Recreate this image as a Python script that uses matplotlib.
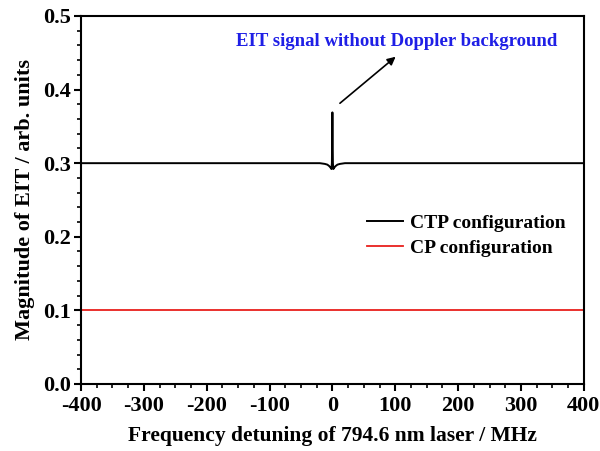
import matplotlib.pyplot as plt
from matplotlib.ticker import MultipleLocator

plt.rcParams['font.family'] = ['Liberation Serif', 'DejaVu Serif']
plt.rcParams['font.weight'] = 'bold'
plt.rcParams['axes.unicode_minus'] = False

# CTP configuration: flat at 0.3 with a narrow EIT peak near zero detuning
ctp_x = [-400, -20, -12, -8, -5, -3, -1.5, -0.8, 0, 0.8, 1.5, 3, 5, 8, 12, 20, 400]
ctp_y = [0.300, 0.300, 0.299, 0.298, 0.296, 0.294, 0.292, 0.300, 0.369,
         0.300, 0.292, 0.294, 0.296, 0.298, 0.299, 0.300, 0.300]
# CP configuration: flat
cp_x = [-400, 400]
cp_y = [0.1, 0.1]

fig = plt.figure(figsize=(6, 4.51), dpi=100)
ax = fig.add_axes([0.135, 0.1486, 0.838, 0.816])

ax.plot(ctp_x, ctp_y, color='black', linewidth=1.4, label='CTP configuration')
ax.plot(cp_x, cp_y, color='#e8201c', linewidth=1.3, label='CP configuration')

ax.set_xlim(-400, 400)
ax.set_ylim(0.0, 0.5)
ax.xaxis.set_major_locator(MultipleLocator(100))
ax.xaxis.set_minor_locator(MultipleLocator(25))
ax.yaxis.set_major_locator(MultipleLocator(0.1))
ax.yaxis.set_minor_locator(MultipleLocator(0.02))
ax.yaxis.set_major_formatter(plt.FormatStrFormatter('%.1f'))

for s in ax.spines.values():
    s.set_linewidth(1.5)
ax.tick_params(which='major', direction='out', length=5, width=1.5, labelsize=16, pad=2)
ax.tick_params(axis='x', which='major', pad=4)
ax.tick_params(which='minor', direction='out', length=3, width=1.2)

ax.set_xlabel('Frequency detuning of 794.6 nm laser / MHz', fontsize=15.5, fontweight='bold', labelpad=7)
ax.set_ylabel('Magnitude of EIT / arb. units', fontsize=16, fontweight='bold', labelpad=6)

ax.annotate('', xy=(104, 0.447), xytext=(8.6, 0.379),
            arrowprops=dict(arrowstyle='-|>', color='black', lw=1.2, mutation_scale=12))
ax.text(102, 0.465, 'EIT signal without Doppler background', color='#1f1fe6',
        fontsize=13.5, fontweight='bold', ha='center', va='center')

ax.legend(loc='upper left', bbox_to_anchor=(0.569, 0.46), frameon=False, fontsize=14,
          borderpad=0, borderaxespad=0, handlelength=1.85, handletextpad=0.36,
          labelspacing=0.38)

fig.savefig('out.png', dpi=100)
